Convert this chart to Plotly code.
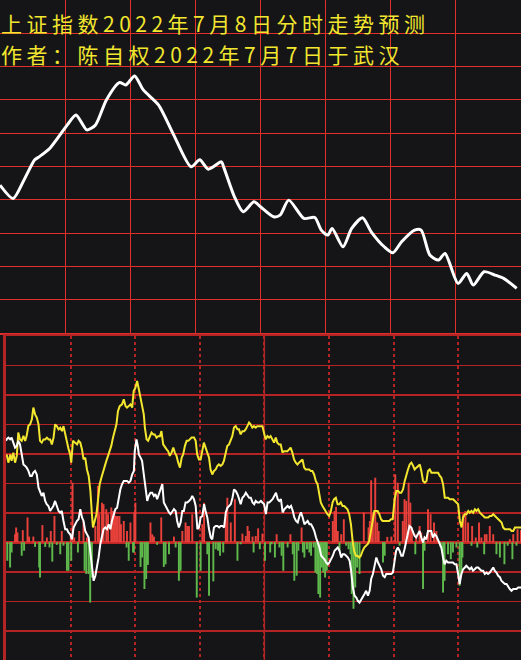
import plotly.graph_objects as go

# ---------------- data ----------------
title_line1 = "上证指数2022年7月8日分时走势预测"
title_line2 = "作者：陈自权2022年7月7日于武汉"

# top panel: forecast price path (minutes 0..240, relative units 0..100)
top_minutes = [0, 6, 11, 16, 18, 23, 31, 35, 40, 44, 49, 55, 58, 62, 66, 73, 80, 88, 92, 96,
               102, 103, 108, 112, 117, 120, 126, 129, 133, 140, 145, 148, 151, 153, 158, 162,
               167, 171, 177, 181, 185, 191, 194, 198, 202, 205, 211, 215, 218, 223, 228, 232, 238]
top_values = [44.4, 40.4, 45.9, 52.0, 52.9, 55.5, 62.5, 65.5, 61.0, 62.5, 70.0, 75.2, 74.5, 77.2,
              73.0, 68.5, 59.5, 49.9, 52.0, 49.2, 51.4, 49.9, 40.9, 36.4, 39.4, 37.9, 34.9, 35.4,
              39.9, 34.4, 34.7, 30.9, 29.4, 31.4, 25.9, 31.4, 34.6, 30.4, 25.9, 24.1, 27.4, 30.9,
              30.9, 23.4, 21.9, 23.9, 14.9, 17.9, 14.4, 18.4, 17.4, 16.4, 13.4]

# bottom panel: yellow indicator
yellow_minutes = [
    0.3, 1.1, 2.0, 2.6, 3.4, 4.2, 5.0, 5.7, 6.5, 7.3, 8.1, 8.9, 9.6, 10.4, 11.2, 12.0, 12.7, 13.5,
    14.3, 15.1, 15.8, 16.6, 17.4, 18.2, 19.0, 19.8, 20.5, 21.3, 22.1, 22.8, 23.6, 24.4, 25.2, 26.0,
    26.7, 27.5, 28.3, 29.1, 29.8, 30.3, 31.1, 32.2, 33.0, 33.7, 34.5, 35.3, 36.0, 36.8, 37.6, 38.4,
    39.2, 39.9, 40.4, 41.2, 42.0, 42.7, 43.5, 44.3, 45.1, 45.8, 46.6, 47.4, 48.2, 48.9, 49.7, 50.5,
    51.3, 52.0, 52.8, 53.9, 54.7, 55.5, 56.2, 57.0,
    57.8, 58.6, 59.3, 60.1, 60.9, 61.7, 62.5, 63.2, 64.0, 64.5, 65.3, 66.0, 66.8, 67.6, 68.4, 69.1,
    69.9, 70.7, 71.5, 72.2, 73.0, 73.8, 74.6, 75.3, 76.1, 76.9, 77.7, 78.4, 79.2, 80.0, 80.8, 81.6,
    82.3, 83.1, 83.9, 84.7, 85.4, 86.2, 87.3, 88.1, 88.8, 89.6, 90.4, 91.2, 91.9, 92.7, 93.5, 94.3,
    95.0, 95.8, 96.6, 97.4, 98.2, 98.9, 99.7, 100.5, 101.2, 102.0, 102.8, 103.6, 104.3, 105.1, 105.9,
    106.7, 107.5, 108.2, 109.0, 109.8, 110.6, 111.3, 112.1, 112.9, 113.6, 114.4, 115.2, 116.0, 116.7,
    117.5, 118.3, 119.1,
    119.8, 120.6, 121.4, 122.2, 122.9, 123.7, 124.5, 125.3, 126.0, 126.8, 127.6, 128.4, 129.1, 129.9,
    130.7, 131.5, 132.2, 133.0, 133.8, 134.6, 135.4, 136.1, 136.9, 137.7, 138.5, 139.2, 140.0, 140.8,
    141.6, 142.3, 143.1, 143.9, 144.7, 145.4, 146.2, 147.0, 147.8, 148.5, 149.3, 150.1, 150.9, 151.7,
    152.4, 153.2, 154.0, 154.8, 155.5, 156.3, 157.1, 157.9, 158.6, 159.4, 160.2, 161.0, 161.7, 162.5,
    163.3, 164.1, 164.8, 165.6, 166.4, 167.2, 168.0, 168.7, 169.5, 170.3, 171.1, 171.8, 172.6, 173.4,
    174.2, 174.9, 175.7, 176.5, 177.3, 178.0, 178.8, 179.6,
    180.5, 181.3, 182.1, 182.8, 183.6, 184.4, 185.2, 185.9, 186.7, 187.5, 188.3, 189.1, 189.8, 190.6,
    191.4, 192.2, 192.9, 193.7, 194.5, 195.3, 196.0, 196.8, 197.6, 198.4, 199.1, 199.9, 200.7, 201.5,
    202.2, 203.0, 203.8, 204.6, 205.3, 206.1, 206.9, 207.7, 208.5, 209.2, 210.0, 210.8, 211.6, 212.3,
    213.1, 213.9, 214.7, 215.4, 216.2, 217.0, 217.8, 218.5, 219.3, 220.1, 220.9, 221.6, 222.4, 223.2,
    224.0, 224.7, 225.5, 226.3, 227.1, 227.8, 228.6, 229.4, 230.2, 230.9, 231.7, 232.5, 233.3, 234.1,
    234.8, 235.6, 236.4, 237.2, 237.9, 239.5]
yellow_values = [
    29.8, 27.0, 29.8, 27.6, 30.4, 27.0, 29.3, 37.2, 34.9, 34.4, 36.1, 34.4, 36.1, 39.5, 40.0, 41.7,
    45.7, 43.4, 42.3, 40.0, 34.4, 33.8, 34.9, 34.9, 35.5, 34.9, 34.9, 33.2, 35.5, 40.0, 39.4, 38.3,
    38.9, 37.7, 39.4, 36.6, 34.9, 31.5, 29.8, 27.0, 34.4, 33.8, 33.2, 34.4, 33.8, 31.5, 28.1, 28.7,
    24.7, 22.5, 17.4, 9.5, 5.0, 7.2, 9.5, 14.0, 19.7, 21.9, 24.2, 25.9, 27.6, 29.3, 30.9, 32.7, 35.5,
    37.7, 40.0, 44.5, 46.2, 46.8, 48.5, 46.2, 45.7, 46.2,
    46.8, 45.7, 51.3, 52.4, 54.7, 51.9, 49.0, 46.8, 43.4, 38.9, 34.9, 34.4, 36.0, 37.2, 36.6, 36.6,
    35.5, 36.0, 36.0, 37.7, 33.2, 32.1, 31.5, 30.9, 29.3, 30.4, 32.1, 30.4, 29.3, 27.0, 25.3, 28.7,
    29.8, 32.7, 34.4, 34.4, 34.9, 35.5, 35.5, 34.4, 29.8, 28.1, 28.1, 31.5, 33.8, 32.1, 30.4, 28.7,
    24.7, 23.0, 24.2, 24.7, 25.9, 26.4, 25.9, 26.4, 27.6, 30.4, 32.7, 33.2, 34.4, 36.0, 38.9, 39.4,
    38.3, 38.3, 36.6, 37.7, 37.7, 38.3, 39.4, 40.6, 40.0, 38.9, 39.4, 38.9, 39.4, 39.4, 39.4, 39.4,
    37.2, 34.9, 36.0, 35.5, 36.0, 34.9, 33.8, 35.5, 33.8, 33.2, 33.2, 30.4, 30.9, 30.9, 30.9, 31.5,
    32.1, 30.4, 28.1, 27.0, 26.4, 27.0, 27.6, 28.1, 25.3, 24.7, 24.7, 24.7, 24.2, 24.2, 23.0, 20.8,
    19.7, 16.3, 13.5, 12.3, 11.2, 10.1, 9.5, 8.9, 10.6, 13.5, 14.6, 15.1, 12.9, 12.9, 13.5, 12.3,
    12.3, 11.7, 11.2, 9.5, 6.1, 0.4, -3.0, -4.6, -4.6, -5.2, -4.6, -3.0, -1.8, -1.2, -0.7, 0.4, 3.8,
    7.2, 10.6, 10.6, 10.6, 9.5, 7.8, 7.2, 7.2, 7.2, 7.2, 7.2, 7.8, 7.8,
    14.6, 17.4, 17.4, 16.8, 16.8, 17.9, 20.8, 23.0, 24.7, 26.4, 27.0, 25.9, 24.7, 25.3, 25.9, 26.4,
    24.2, 20.8, 20.2, 20.8, 24.2, 24.7, 23.6, 23.6, 23.6, 23.6, 23.6, 22.5, 21.9, 19.7, 15.1, 15.1,
    15.1, 14.6, 14.6, 14.6, 14.0, 13.5, 12.9, 7.2, 5.0, 8.4, 9.5, 9.5, 10.6, 10.0, 10.6, 10.0, 11.2,
    10.6, 11.2, 10.0, 9.5, 8.9, 8.4, 8.4, 8.4, 8.9, 8.9, 9.5, 8.9, 8.4, 7.8, 7.2, 6.7, 5.0, 4.4, 4.4,
    4.4, 4.4, 3.8, 3.8, 5.0, 5.0, 5.0, 5.0]

# bottom panel: white indicator
white_minutes = [
    0.0, 0.3, 1.1, 1.9, 2.6, 3.4, 4.2, 5.0, 5.7, 6.5, 7.3, 8.1, 8.9, 9.6, 10.4, 11.2, 12.0, 12.7,
    13.5, 14.3, 15.1, 15.8, 16.6, 17.4, 18.2, 18.9, 19.7, 20.5, 21.3, 22.0, 22.8, 23.6, 24.4, 25.2,
    25.9, 26.7, 27.5, 28.3, 29.0, 29.8, 30.6, 31.4, 32.1, 32.9, 33.7, 34.5, 35.3, 36.0, 36.8, 37.6,
    38.4, 39.1, 39.9, 40.7, 41.5, 42.2, 43.0, 43.8, 44.6, 45.3, 46.1, 46.9, 47.7, 48.5, 49.2, 50.0,
    50.8, 51.6, 52.3, 53.1, 53.9, 54.7, 55.4, 56.2, 57.0,
    57.8, 58.6, 59.4, 59.8, 60.6, 61.2, 61.7, 62.5, 63.2, 64.0, 64.8, 65.6, 66.3, 67.1, 67.9, 68.7,
    69.4, 70.2, 71.0, 71.8, 72.6, 73.3, 74.1, 74.9, 75.7, 76.4, 77.2, 78.0, 78.8, 79.5, 80.3, 81.1,
    81.9, 82.6, 83.4, 84.2, 85.0, 85.8, 86.5, 87.3, 88.1, 88.9, 89.6, 90.4, 91.2, 92.0, 92.7, 93.5,
    94.3, 95.1, 95.8, 96.6, 97.4, 98.2, 99.0, 99.7, 100.5, 101.3, 102.1, 102.8, 103.6, 104.4, 105.2,
    105.9, 106.7, 107.5, 108.3, 109.0, 109.8, 110.6, 111.4, 112.2, 112.9, 113.7, 114.5, 115.3, 116.0,
    116.8, 117.6, 118.4, 119.1,
    119.9, 120.7, 121.5, 122.3, 123.1, 123.8, 124.6, 125.4, 126.2, 126.9, 127.7, 128.5, 129.3, 130.0,
    130.8, 131.6, 132.4, 133.2, 133.9, 134.7, 135.5, 136.3, 137.0, 137.8, 138.6, 139.4, 140.1, 140.9,
    141.7, 142.5, 143.2, 144.0, 144.8, 145.6, 146.4, 147.1, 147.9, 148.7, 149.5, 150.2, 151.0, 151.8,
    152.6, 153.3, 154.1, 154.9, 155.7, 156.4, 157.2, 158.0, 158.8, 159.6, 160.3, 161.1, 161.9, 162.7,
    163.4, 164.2, 165.0, 165.8, 166.5, 167.3, 168.1, 168.9, 169.6, 170.4, 171.2, 172.0, 172.8, 173.5,
    174.3, 175.1, 175.9, 176.6, 177.4, 178.2, 178.9,
    179.7, 180.5, 181.2, 182.0, 182.8, 183.6, 184.3, 185.1, 185.9, 186.7, 187.4, 188.2, 189.0, 189.8,
    190.5, 191.3, 192.1, 192.9, 193.7, 194.4, 195.2, 196.0, 196.8, 197.5, 198.3, 199.1, 199.9, 200.6,
    201.4, 202.2, 203.0, 203.7, 204.5, 205.3, 206.1, 206.9, 207.6, 208.4, 209.2, 210.0, 210.7, 211.5,
    212.3, 213.1, 213.8, 214.6, 215.4, 216.2, 216.9, 217.7, 218.5, 219.3, 220.1, 220.8, 221.6, 222.4,
    223.2, 223.9, 224.7, 225.5, 226.3, 227.0, 227.8, 228.6, 229.4, 230.1, 230.9, 231.7, 232.5, 233.3,
    234.0, 234.8, 235.6, 236.4, 237.1, 237.9, 239.5]
white_values = [
    34.4, 34.9, 35.5, 34.9, 35.5, 33.8, 32.1, 32.7, 34.4, 33.2, 29.8, 26.4, 25.9, 25.3, 24.2, 22.5,
    22.5, 23.6, 24.2, 23.0, 18.5, 17.4, 15.7, 16.8, 14.0, 12.9, 12.3, 10.6, 11.7, 12.3, 14.0, 12.3,
    10.6, 10.0, 10.6, 7.2, 4.4, 4.4, 3.3, 2.7, 1.0, 5.0, 6.1, 7.2, 7.8, 11.2, 8.4, 7.2, 3.8, 2.7, 1.6,
    -2.9, -8.0, -13.1, -11.4, -8.6, -5.2, -0.7, 2.7, 4.4, 5.0, 4.4, 6.1, 4.4, 7.2, 9.5, 11.2, 11.7,
    15.1, 17.9, 19.7, 20.8, 20.8, 20.8, 20.2,
    20.8, 23.0, 24.2, 30.9, 34.9, 32.7, 29.8, 28.7, 27.6, 23.0, 18.5, 14.0, 15.7, 16.8, 16.8, 15.7,
    16.3, 14.6, 16.3, 18.0, 19.7, 13.5, 12.3, 11.2, 10.1, 9.5, 10.6, 11.2, 10.6, 7.2, 5.0, 6.7, 10.6,
    10.6, 13.5, 13.5, 14.0, 14.6, 15.7, 14.6, 12.3, 4.4, 5.0, 8.4, 8.9, 12.9, 10.6, 8.4, 4.4, 1.6,
    1.0, 5.0, 5.5, 5.5, 5.0, 5.5, 5.5, 5.0, 10.1, 11.7, 12.3, 12.9, 15.1, 17.9, 17.4, 16.3, 14.6,
    12.9, 15.1, 15.7, 16.8, 15.7, 15.1, 15.1, 13.5, 12.9, 14.0, 13.5, 13.5, 14.0, 13.5,
    12.9, 9.5, 13.5, 13.5, 14.0, 14.6, 15.7, 16.8, 14.6, 14.0, 14.6, 10.1, 11.2, 11.7, 12.3, 11.7,
    12.3, 10.6, 8.4, 7.2, 6.7, 8.9, 10.1, 8.4, 6.1, 6.7, 7.2, 6.1, 6.1, 5.0, 3.8, 1.6, -0.1, -1.8,
    -4.6, -5.2, -5.8, -6.9, -7.5, -6.9, -5.8, -4.6, -2.9, -2.4, -1.8, -2.9, -5.2, -4.1, -4.1, -4.6,
    -5.2, -6.3, -9.7, -15.4, -18.2, -18.8, -19.9, -20.5, -19.3, -18.2, -17.6, -16.5, -18.2, -16.5,
    -12.5, -10.8, -7.5, -5.2, -6.9, -8.0, -9.2, -11.4, -11.9, -10.8, -10.8, -10.8, -10.8,
    -10.3, -5.2, -2.9, -1.8, -2.9, -4.6, -4.6, -2.4, 0.5, 3.3, 5.5, 5.0, 3.3, 2.1, 1.6, 2.7, 3.8, 1.6,
    -0.1, 1.6, 1.0, 3.8, 3.8, 3.8, 1.6, 2.7, 2.1, 1.0, -0.1, -1.8, -5.2, -7.5, -6.3, -6.9, -6.9, -6.9,
    -6.9, -7.5, -7.5, -10.8, -14.2, -10.8, -9.2, -8.6, -8.0, -8.6, -9.2, -8.6, -9.7, -9.2, -8.6, -8.6,
    -9.2, -9.7, -9.7, -10.8, -10.3, -10.8, -10.3, -9.2, -8.6, -9.7, -10.3, -11.4, -11.9, -13.1, -13.7,
    -14.2, -14.2, -15.4, -15.9, -16.5, -15.9, -15.9, -15.9, -15.4, -15.4]

# bottom panel: per-minute flow bars (positive = red, negative = green)
bar_minutes = [
    4.2, 4.7, 5.3, 7.8, 10.0, 10.7, 12.7, 16.9, 19.0, 20.8, 22.5, 25.9, 30.1, 30.9, 31.7, 34.0,
    36.0, 37.6, 41.5, 42.7, 43.3, 44.6, 45.3, 46.6, 47.4, 48.9, 49.7, 50.3, 51.1, 51.9, 52.7, 53.4,
    54.7, 56.2, 57.8, 59.6, 60.1, 67.1, 67.9, 68.7, 72.1, 78.0, 81.9, 83.4, 84.2, 85.0, 86.5, 91.2,
    92.0, 102.1, 102.8, 104.4, 106.3, 109.8, 111.4, 112.2, 112.9, 114.5, 116.0, 117.1, 119.1,
    125.7, 132.1, 137.3, 151.8, 152.6, 153.3, 154.1, 155.7, 156.9, 166.2, 168.4, 169.0, 169.6,
    170.4, 171.5, 172.4, 173.1, 177.1, 179.0, 180.8, 182.0, 184.3, 185.1, 185.9, 187.0, 187.8,
    188.5, 190.5, 192.1, 192.9, 196.0, 197.2, 198.8, 199.9, 212.3, 213.4, 214.6, 216.5, 218.2,
    219.7, 220.8, 222.4, 223.2, 224.7, 226.3, 234.0, 235.6, 237.6, 239.2,
    0.6, 1.9, 2.6, 7.3, 8.4, 13.5, 15.4, 15.8, 18.2, 20.2, 21.5, 23.6, 25.2, 26.7, 28.3, 29.0,
    30.3, 33.4, 36.5, 37.3, 38.4, 39.1, 39.9, 56.0, 57.0, 59.0, 59.4, 62.5, 63.2, 64.3, 65.1, 65.9,
    70.2, 73.3, 74.1, 75.7, 78.8, 80.3, 81.1, 88.6, 90.4, 93.5, 94.3, 96.3, 97.4, 98.5, 99.4, 100.9,
    107.5, 109.0, 115.0, 117.9, 120.3, 122.7, 123.4, 124.9, 127.0, 128.0, 128.8, 130.8, 133.2,
    133.9, 135.0, 135.8, 137.9, 138.6, 139.8, 140.9, 141.7, 142.9, 143.7, 144.5, 145.1, 145.9,
    146.7, 147.4, 148.2, 149.0, 154.9, 158.0, 159.1, 160.0, 160.6, 161.4, 162.2, 163.1, 164.2,
    175.1, 175.9, 182.8, 190.1, 193.7, 194.4, 201.9, 203.0, 203.7, 205.3, 206.6, 207.6, 209.2,
    210.7, 211.5, 212.0, 216.2, 218.9, 222.1, 227.8, 229.4, 231.5, 233.0, 235.2, 237.1]
bar_values = [
    2.7, 5.0, 3.3, 4.1, 8.4, 1.9, 1.9, 5.8, 1.6, 3.8, 8.9, 3.8, 1.6, 20.2, 1.6, 3.8, 7.2, 1.6, 5.5,
    19.1, 9.5, 13.4, 12.9, 11.2, 9.5, 11.8, 10.6, 9.5, 8.9, 8.9, 8.9, 6.1, 7.2, 3.8, 6.7, 10.1, 13.4,
    6.7, 2.7, 1.9, 8.4, 1.9, 3.8, 6.7, 5.5, 5.5, 9.5, 6.1, 13.4, 10.6, 15.1, 6.7, 14.6, 2.9, 2.1,
    5.5, 3.8, 1.9, 2.1, 4.7, 2.9,
    2.7, 2.7, 5.0, 7.2, 10.6, 12.0, 3.8, 2.7, 7.8, 10.1, 5.0, 7.2, 21.0, 10.1, 21.9, 6.7, 3.8, 1.8,
    1.9, 23.0, 20.2, 7.2, 14.6, 14.0, 20.2, 13.4, 5.0, 2.7, 5.5, 3.3, 11.2, 9.5, 6.7, 3.8, 9.5,
    10.6, 6.7, 5.5, 1.6, 6.7, 1.6, 2.7, 2.7, 5.5, 2.7, 1.0, 2.7, 4.4, 4.1,
    -6.3, -8.6, -3.5, -4.6, -2.9, -1.6, -8.6, -12.0, -1.6, -1.8, -6.6, -0.9, -4.1, -1.2, -9.7,
    -9.7, -6.3, -3.5, -9.7, -10.8, -10.8, -20.5, -12.0, -1.8, -6.3, -3.5, -3.5, -8.4, -5.2, -15.9,
    -12.5, -7.7, -0.9, -8.4, -7.5, -4.1, -1.8, -13.1, -9.7, -18.8, -9.7, -4.1, -18.2, -13.3, -2.4,
    -2.9, -4.6, -3.5, -6.3, -0.7, -3.5, -2.4, -6.3, -3.5, -0.7, -5.2, -1.8, -4.6, -9.7, -1.8, -4.1,
    -13.1, -11.4, -2.9, -3.5, -5.2, -2.4, -3.5, -4.6, -1.8, -10.3, -10.8, -17.6, -18.8, -8.6, -10.3,
    -12.0, -9.7, -2.9, -1.2, -2.4, -4.1, -17.6, -22.6, -15.4, -8.6, -10.8, -6.9, -4.6, -1.2, -4.1,
    -15.9, -2.9, -1.8, -17.1, -13.1, -4.1, -5.8, -3.5, -1.8, -14.8, -10.8, -5.2, -1.2, -1.8, -4.1,
    -4.1, -5.2, -7.5, -1.2, -5.8, -1.2]

# ---------------- style ----------------
BG = "#151518"
TOP_GRID = "#e0302b"
BOT_GRID = "#b42424"
RED_BAR = "#e8403a"
GREEN_BAR = "#5fb84c"
YELLOW = "#f2e62e"

red_x = [m for m, v in zip(bar_minutes, bar_values) if v >= 0]
red_y = [v for v in bar_values if v >= 0]
green_x = [m for m, v in zip(bar_minutes, bar_values) if v < 0]
green_y = [v for v in bar_values if v < 0]

fig = go.Figure()

fig.add_trace(go.Scatter(x=top_minutes, y=top_values, mode="lines",
                         line=dict(color="white", width=3, shape="spline", smoothing=0.7),
                         xaxis="x", yaxis="y", hoverinfo="skip"))

fig.add_trace(go.Bar(x=red_x, y=red_y, width=0.9, marker=dict(color=RED_BAR, line=dict(width=0)),
                     xaxis="x2", yaxis="y2", hoverinfo="skip"))
fig.add_trace(go.Bar(x=green_x, y=green_y, width=0.9, marker=dict(color=GREEN_BAR, line=dict(width=0)),
                     xaxis="x2", yaxis="y2", hoverinfo="skip"))
fig.add_trace(go.Scatter(x=yellow_minutes, y=yellow_values, mode="lines",
                         line=dict(color=YELLOW, width=2),
                         xaxis="x2", yaxis="y2", hoverinfo="skip"))
fig.add_trace(go.Scatter(x=white_minutes, y=white_values, mode="lines",
                         line=dict(color="white", width=2),
                         xaxis="x2", yaxis="y2", hoverinfo="skip"))

W, H = 521, 660
top_bottom_px = 333
bot_top_px = 336
bot_left_px = 6

fig.update_layout(
    template="none",
    width=W, height=H, margin=dict(l=0, r=0, t=0, b=0, pad=0),
    paper_bgcolor=BG, plot_bgcolor=BG, showlegend=False, barmode="overlay",
    hovermode=False,
    xaxis=dict(domain=[0, 1], range=[0, 240], anchor="y", tick0=0, dtick=30,
               showgrid=True, gridcolor=TOP_GRID, gridwidth=1, zeroline=False,
               showticklabels=False, ticks="", showline=True, mirror=True,
               linecolor=TOP_GRID, linewidth=2, showspikes=False),
    yaxis=dict(domain=[1 - top_bottom_px / H, 1], range=[0, 100], anchor="x", tick0=0, dtick=10,
               showgrid=True, gridcolor=TOP_GRID, gridwidth=1, zeroline=False,
               showticklabels=False, ticks="", showline=True, mirror=True,
               linecolor=TOP_GRID, linewidth=2, showspikes=False),
    xaxis2=dict(domain=[bot_left_px / W, 1], range=[0, 239.2], anchor="y2", tick0=0, dtick=30,
                showgrid=True, gridcolor=BOT_GRID, gridwidth=2, griddash="dot", zeroline=False,
                showticklabels=False, ticks="", showline=True, mirror=True,
                linecolor=BOT_GRID, linewidth=2),
    yaxis2=dict(domain=[0, 1 - bot_top_px / H], range=[-40, 70], anchor="x2", tick0=10, dtick=20,
                showgrid=True, gridcolor=BOT_GRID, gridwidth=2,
                minor=dict(tick0=0, dtick=10, showgrid=True, gridcolor=BOT_GRID, gridwidth=1, ticks=""),
                zeroline=True, zerolinecolor="#c02626", zerolinewidth=3,
                showticklabels=False, ticks="", showline=True, mirror=False,
                linecolor=BOT_GRID, linewidth=3),
    shapes=[dict(type="line", xref="x2", yref="y2 domain", x0=120, x1=120, y0=0, y1=1,
                 line=dict(color=BOT_GRID, width=1.5), layer="below")],
    annotations=[
        dict(text=title_line1, xref="paper", yref="paper",
             x=0, y=1 - 23 / H, xanchor="left", yanchor="middle", align="left",
             showarrow=False, borderpad=0,
             font=dict(family="Noto Sans CJK SC", size=21, color=YELLOW)),
        dict(text=title_line2, xref="paper", yref="paper",
             x=0, y=1 - 54 / H, xanchor="left", yanchor="middle", align="left",
             showarrow=False, borderpad=0,
             font=dict(family="Noto Sans CJK SC", size=21, color=YELLOW)),
    ],
)

post = ("document.body.style.margin='0';document.body.style.padding='0';"
        "document.documentElement.style.margin='0';"
        "document.querySelectorAll('.annotation-text').forEach(function(e){"
        "e.style.letterSpacing='4.5px';});")

fig.write_html("out.html", config={"displayModeBar": False, "staticPlot": True},
               post_script=post)
